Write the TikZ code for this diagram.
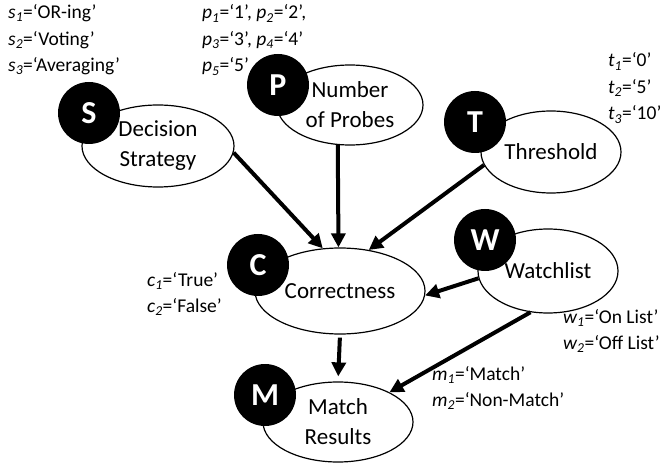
\documentclass[tikz,border=0pt]{standalone}
\usepackage{fontspec}
\setmainfont{Carlito}
\usetikzlibrary{shapes.geometric,arrows.meta}

\newcommand{\val}[2]{{\itshape #1\textsubscript{#2}}=}

\begin{document}
\begin{tikzpicture}[x=1pt,y=-1pt,
    var/.style={draw, ellipse, line width=1.2pt, inner sep=0pt, align=center, font=\fontsize{23}{30}\selectfont},
    tag/.style={circle, fill=black, text=white, inner sep=0pt, minimum size=62pt, font=\bfseries\fontsize{32}{32}\selectfont},
    vals/.style={anchor=west, align=left, inner sep=0pt, font=\fontsize{19.5}{26.5}\selectfont},
    arr/.style={-{Triangle[length=14pt,width=14pt]}, line width=4pt}]

    \useasboundingbox (0,0) rectangle (662,465);

    \node[var, minimum width=152pt, minimum height=82pt] (s) at (158,146) {Decision\\Strategy};
    \node[var, minimum width=146pt, minimum height=80pt] (p) at (350,105) {Number\\of Probes};
    \node[var, minimum width=140pt, minimum height=82pt] (t) at (551,152) {Threshold};
    \node[var, minimum width=170pt, minimum height=86pt] (c) at (340,291) {Correctness};
    \node[var, minimum width=140pt, minimum height=84pt] (w) at (548,271) {Watchlist};
    \node[var, minimum width=150pt, minimum height=80pt] (m) at (338,422) {Match\\Results};

    \node[tag] (sl) at (89,113) {S};
    \node[tag] (pl) at (278,85) {P};
    \node[tag] (tl) at (475,122) {T};
    \node[tag] (cl) at (258,265) {C};
    \node[tag] (wl) at (485,240) {W};
    \node[tag] (ml) at (265,395) {M};

    \node[vals] (sv) at (8,40) {\val{s}{1}`OR-ing'\\ \val{s}{2}`Voting'\\ \val{s}{3}`Averaging'};
    \node[vals] (pv) at (202,40) {\val{p}{1}`1', \val{p}{2}`2',\\ \val{p}{3}`3', \val{p}{4}`4'\\ \val{p}{5}`5'};
    \node[vals] (tv) at (608,88) {\val{t}{1}`0'\\ \val{t}{2}`5'\\ \val{t}{3}`10'};
    \node[vals] (cv) at (147,294) {\val{c}{1}`True'\\ \val{c}{2}`False'};
    \node[vals] (wv) at (563,331) {\val{w}{1}`On List'\\ \val{w}{2}`Off List'};
    \node[vals] (mv) at (432,388) {\val{m}{1}`Match'\\ \val{m}{2}`Non-Match'};

    \draw[arr] (s.-5) -- (c.112);
    \draw[arr] (p.-107) -- (c.92);
    \draw[arr] (t.191) -- (c.55);
    \draw[arr] (w.186) -- (c.-3);
    \draw[arr, shorten <=3pt, shorten >=5pt] (c.south) -- (m.north);
    \draw[arr] (w.-113) -- (m.30);

\end{tikzpicture}
\end{document}
